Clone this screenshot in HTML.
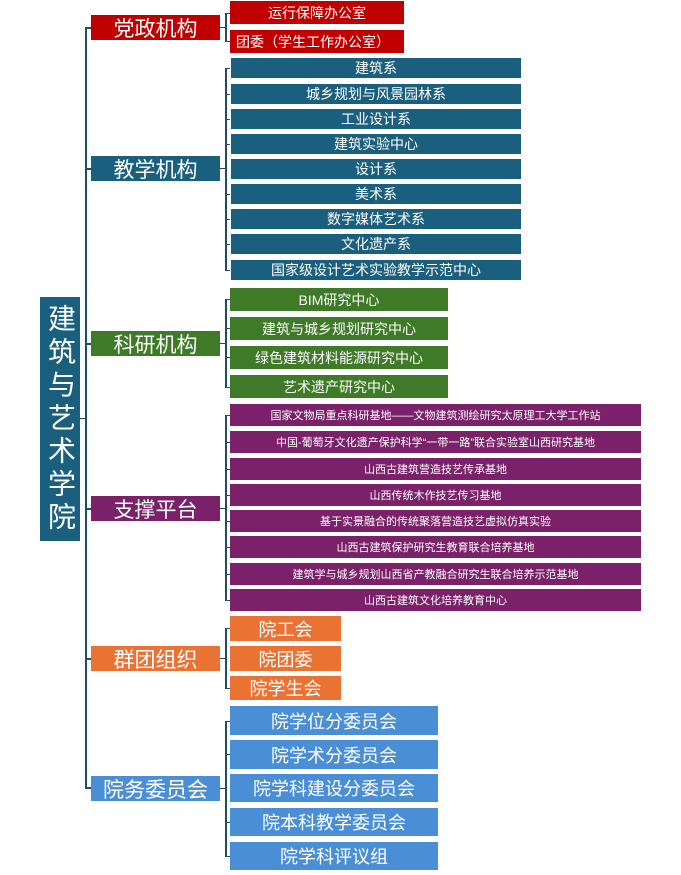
<!DOCTYPE html>
<html><head><meta charset="utf-8"><style>
body{margin:0;width:681px;height:875px;background:#fff;position:relative;overflow:hidden;font-family:"Liberation Sans","Noto Sans CJK SC",sans-serif}
.b{position:absolute;color:#fff;display:flex;align-items:center;justify-content:center;white-space:nowrap}
.l{position:absolute;background:#1f4e63}
.k{position:absolute;background:#1f4e63;left:225px;width:5px;height:1px}
.r{background:#c00000}.t{background:#1b5f7f}.g{background:#3e7a28}.p{background:#7a2169}.o{background:#ea7232}.u{background:#4a8fd6}
</style></head><body>
<div class="b t" style="left:40px;top:297px;width:40px;height:244px;font-size:28px;line-height:32px;writing-mode:vertical-rl;letter-spacing:5px">建筑与艺术学院</div>
<div class="l" style="left:85px;top:27px;width:1.5px;height:761px"></div>
<div class="l" style="left:80px;top:418px;width:5px;height:1px"></div>

<div class="l" style="left:85px;top:27px;width:6px;height:1.5px"></div>
<div class="l" style="left:85px;top:168px;width:6px;height:1.5px"></div>
<div class="l" style="left:85px;top:343px;width:6px;height:1.5px"></div>
<div class="l" style="left:85px;top:508px;width:6px;height:1.5px"></div>
<div class="l" style="left:85px;top:658px;width:6px;height:1.5px"></div>
<div class="l" style="left:85px;top:787px;width:6px;height:1.5px"></div>

<div class="b r" style="left:91px;top:15px;width:129px;height:25px;font-size:21px">党政机构</div>
<div class="b t" style="left:91px;top:156px;width:129px;height:25px;font-size:21px">教学机构</div>
<div class="b g" style="left:91px;top:331px;width:129px;height:25px;font-size:21px">科研机构</div>
<div class="b p" style="left:91px;top:496px;width:129px;height:25px;font-size:21px">支撑平台</div>
<div class="b o" style="left:91px;top:646px;width:129px;height:25px;font-size:21px">群团组织</div>
<div class="b u" style="left:91px;top:776px;width:129px;height:25px;font-size:21px">院务委员会</div>

<!-- brackets -->
<div class="l" style="left:225px;top:13px;width:1.5px;height:28px"></div>
<div class="l" style="left:220px;top:27px;width:5px;height:1px"></div>
<div class="k" style="top:13px"></div><div class="k" style="top:41px"></div>
<div class="l" style="left:225px;top:68px;width:1.5px;height:202px"></div>
<div class="l" style="left:220px;top:168px;width:5px;height:1px"></div>
<div class="k" style="top:68px"></div><div class="k" style="top:94px"></div><div class="k" style="top:119px"></div><div class="k" style="top:144px"></div><div class="k" style="top:194px"></div><div class="k" style="top:219px"></div><div class="k" style="top:244px"></div><div class="k" style="top:270px"></div>
<div class="l" style="left:225px;top:299px;width:1.5px;height:88px"></div>
<div class="l" style="left:220px;top:343px;width:5px;height:1px"></div>
<div class="k" style="top:299px"></div><div class="k" style="top:328px"></div><div class="k" style="top:357px"></div><div class="k" style="top:387px"></div>
<div class="l" style="left:225px;top:415px;width:1.5px;height:185px"></div>
<div class="l" style="left:220px;top:508px;width:5px;height:1px"></div>
<div class="k" style="top:415px"></div><div class="k" style="top:442px"></div><div class="k" style="top:469px"></div><div class="k" style="top:495px"></div><div class="k" style="top:521px"></div><div class="k" style="top:547px"></div><div class="k" style="top:574px"></div><div class="k" style="top:600px"></div>
<div class="l" style="left:225px;top:628px;width:1.5px;height:60px"></div>
<div class="l" style="left:220px;top:658px;width:5px;height:1px"></div>
<div class="k" style="top:628px"></div><div class="k" style="top:688px"></div>
<div class="l" style="left:225px;top:721px;width:1.5px;height:135px"></div>
<div class="l" style="left:220px;top:788px;width:5px;height:1px"></div>
<div class="k" style="top:721px"></div><div class="k" style="top:754px"></div><div class="k" style="top:822px"></div><div class="k" style="top:856px"></div>

<div class="b r" style="left:230px;top:1px;width:174px;height:23px;font-size:14px">运行保障办公室</div>
<div class="b r" style="left:230px;top:30px;width:174px;height:23px;font-size:14px;justify-content:flex-start;padding-left:6px;box-sizing:border-box">团委（学生工作办公室）</div>

<div class="b t" style="left:231px;top:58px;width:290px;height:20px;font-size:14px">建筑系</div>
<div class="b t" style="left:231px;top:84px;width:290px;height:20px;font-size:14px">城乡规划与风景园林系</div>
<div class="b t" style="left:231px;top:109px;width:290px;height:20px;font-size:14px">工业设计系</div>
<div class="b t" style="left:231px;top:134px;width:290px;height:20px;font-size:14px">建筑实验中心</div>
<div class="b t" style="left:231px;top:159px;width:290px;height:20px;font-size:14px">设计系</div>
<div class="b t" style="left:231px;top:184px;width:290px;height:20px;font-size:14px">美术系</div>
<div class="b t" style="left:231px;top:209px;width:290px;height:20px;font-size:14px">数字媒体艺术系</div>
<div class="b t" style="left:231px;top:234px;width:290px;height:20px;font-size:14px">文化遗产系</div>
<div class="b t" style="left:231px;top:260px;width:290px;height:20px;font-size:14px">国家级设计艺术实验教学示范中心</div>

<div class="b g" style="left:230px;top:288px;width:218px;height:23px;font-size:14px">BIM研究中心</div>
<div class="b g" style="left:230px;top:317px;width:218px;height:23px;font-size:14px">建筑与城乡规划研究中心</div>
<div class="b g" style="left:230px;top:346px;width:218px;height:23px;font-size:14px">绿色建筑材料能源研究中心</div>
<div class="b g" style="left:230px;top:375px;width:218px;height:23px;font-size:14px">艺术遗产研究中心</div>

<div class="b p" style="left:230px;top:404px;width:411px;height:22px;font-size:11px">国家文物局重点科研基地——文物建筑测绘研究太原理工大学工作站</div>
<div class="b p" style="left:230px;top:431px;width:411px;height:22px;font-size:11px">中国-葡萄牙文化遗产保护科学“一带一路”联合实验室山西研究基地</div>
<div class="b p" style="left:230px;top:458px;width:411px;height:22px;font-size:11px">山西古建筑营造技艺传承基地</div>
<div class="b p" style="left:230px;top:484px;width:411px;height:22px;font-size:11px">山西传统木作技艺传习基地</div>
<div class="b p" style="left:230px;top:510px;width:411px;height:22px;font-size:11px">基于实景融合的传统聚落营造技艺虚拟仿真实验</div>
<div class="b p" style="left:230px;top:536px;width:411px;height:22px;font-size:11px">山西古建筑保护研究生教育联合培养基地</div>
<div class="b p" style="left:230px;top:563px;width:411px;height:22px;font-size:11px">建筑学与城乡规划山西省产教融合研究生联合培养示范基地</div>
<div class="b p" style="left:230px;top:589px;width:411px;height:22px;font-size:11px">山西古建筑文化培养教育中心</div>

<div class="b o" style="left:230px;top:616px;width:111px;height:25px;font-size:18px">院工会</div>
<div class="b o" style="left:230px;top:646px;width:111px;height:25px;font-size:18px">院团委</div>
<div class="b o" style="left:230px;top:676px;width:111px;height:24px;font-size:18px">院学生会</div>

<div class="b u" style="left:230px;top:706px;width:208px;height:29px;font-size:18px">院学位分委员会</div>
<div class="b u" style="left:230px;top:740px;width:208px;height:29px;font-size:18px">院学术分委员会</div>
<div class="b u" style="left:230px;top:774px;width:208px;height:28px;font-size:18px">院学科建设分委员会</div>
<div class="b u" style="left:230px;top:808px;width:208px;height:28px;font-size:18px">院本科教学委员会</div>
<div class="b u" style="left:230px;top:842px;width:208px;height:28px;font-size:18px">院学科评议组</div>
</body></html>
